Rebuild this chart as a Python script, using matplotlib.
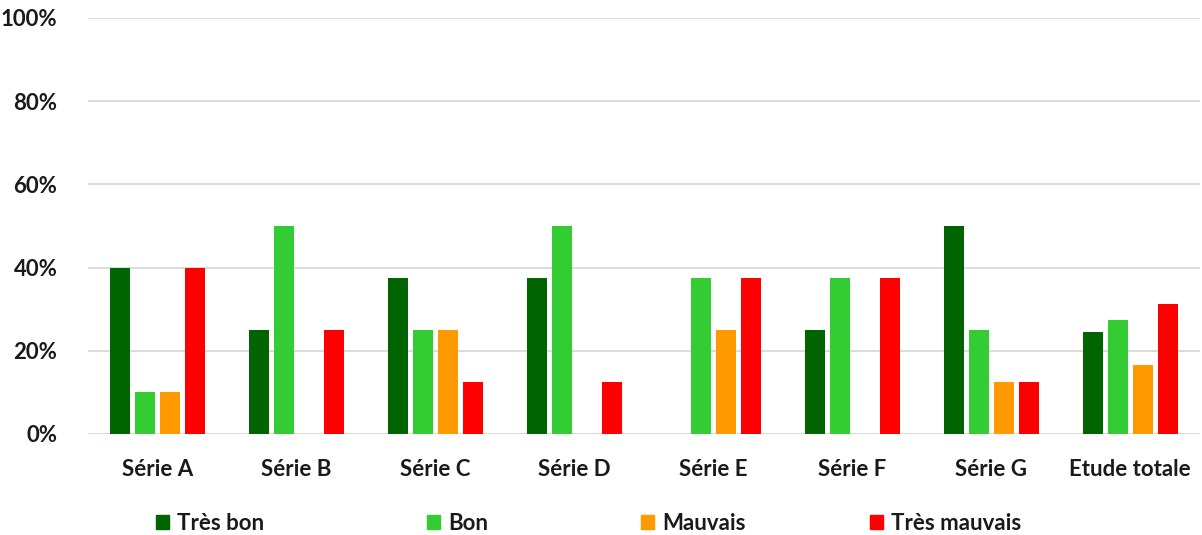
import numpy as np
import matplotlib.pyplot as plt
from matplotlib.patches import Patch

categories = ["Série A", "Série B", "Série C", "Série D", "Série E", "Série F", "Série G", "Etude totale"]
tres_bon = [40, 25, 37.5, 37.5, 0, 25, 50, 24.5]
bon = [10, 50, 25, 50, 37.5, 37.5, 25, 27.5]
mauvais = [10, 0, 25, 0, 25, 0, 12.5, 16.5]
tres_mauvais = [40, 25, 12.5, 12.5, 37.5, 37.5, 12.5, 31.2]

series = [("Très bon", tres_bon, "#006400"),
          ("Bon", bon, "#33cc33"),
          ("Mauvais", mauvais, "#ff9900"),
          ("Très mauvais", tres_mauvais, "#ff0000")]

plt.rcParams['font.family'] = ['Lato', 'DejaVu Sans']
plt.rcParams['font.weight'] = 'bold'
plt.rcParams['text.color'] = '#1a1a1a'

fig = plt.figure(figsize=(12.02, 5.35), dpi=100)
ax = fig.add_axes([0.0732, 0.1888, 0.9248, 0.7776])

x = np.arange(len(categories))
pitch = 0.18
width = 0.145
for i, (name, vals, col) in enumerate(series):
    ax.bar(x + (i - 1.5) * pitch, vals, width, color=col, zorder=3)

ax.set_xlim(-0.5, len(categories) - 0.5)
ax.set_ylim(0, 100)
ax.set_yticks(np.arange(0, 101, 20))
ax.set_yticklabels([f"{v}%" for v in range(0, 101, 20)], fontsize=16, fontweight='bold')
ax.set_xticks(x)
ax.set_xticklabels(categories, fontsize=16, fontweight='bold')
ax.tick_params(length=0, pad=18, labelcolor='#1a1a1a')
ax.tick_params(axis='y', pad=22)
ax.grid(axis='y', color='#d9d9d9', linewidth=1.3, zorder=0)
for s in ax.spines.values():
    s.set_visible(False)

# legend entries are spread like the original (one small legend per entry)
leg_x = [0.1206, 0.346, 0.524, 0.7146]
for (name, vals, col), lx in zip(series, leg_x):
    fig.legend(handles=[Patch(color=col)], labels=[name], loc='center left',
               bbox_to_anchor=(lx, 0.022), frameon=False, fontsize=16,
               handlelength=0.6, handleheight=0.6, handletextpad=0.35, borderpad=0)

fig.savefig("out.png", dpi=100)
